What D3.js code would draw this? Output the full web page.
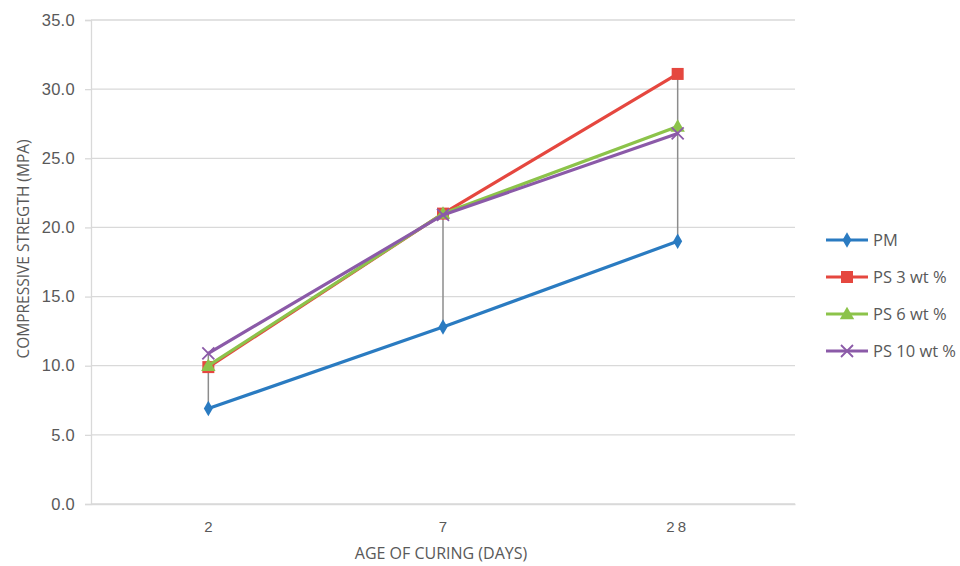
<!DOCTYPE html>
<html><head><meta charset="utf-8">
<script src="https://cdn.jsdelivr.net/npm/d3@7"></script>
<style>body{margin:0;background:#fff}svg{display:block;font-family:"Open Sans","Liberation Sans",sans-serif}</style>
</head><body><svg id="c" width="960" height="566"></svg>
<script>
const categories = ["2","7","28"];
const seriesNames = ["PM","PS 3 wt %","PS 6 wt %","PS 10 wt %"];
const pm = [6.9, 12.8, 19.0];
const ps3 = [9.9, 21.0, 31.1];
const ps6 = [10.0, 21.0, 27.3];
const ps10 = [10.9, 20.9, 26.8];
const yTicks = [0,5,10,15,20,25,30,35];
const xTitle = "AGE OF CURING (DAYS)";
const yTitle = "COMPRESSIVE STREGTH (MPA)";

const colors = ["#2a7bc1","#e5473f","#8cc34a","#8b5aa8"];
const shapes = ["diamond","square","triangle","x"];
const data = [pm, ps3, ps6, ps10];

const svg = d3.select("#c");
const L=91, R=795, T=20, B=504;
const x = d3.scaleBand().domain(categories).range([L,R]);
const y = d3.scaleLinear().domain([0,35]).range([B,T]);
const cx = c => x(c) + x.bandwidth()/2;
const txt = "#595959";

svg.append("g").selectAll("line").data(yTicks).join("line")
  .attr("x1",L).attr("x2",R).attr("y1",d=>y(d)).attr("y2",d=>y(d))
  .attr("stroke","#d9d9d9").attr("stroke-width",1.3);
const ya = svg.append("g").attr("transform",`translate(${L},0)`)
  .call(d3.axisLeft(y).tickValues(yTicks).tickFormat(d3.format(".1f")).tickSize(6).tickPadding(10));
ya.select(".domain").attr("stroke","#d9d9d9").attr("stroke-width",1.3);
ya.selectAll(".tick line").attr("stroke","#d9d9d9").attr("stroke-width",1.3);
ya.selectAll("text").attr("fill",txt).attr("font-size",16.5).attr("letter-spacing","0.3");
const xa = svg.append("g").attr("transform",`translate(0,${B})`)
  .call(d3.axisBottom(x).tickSize(0).tickPadding(17));
xa.select(".domain").attr("stroke","#d9d9d9").attr("stroke-width",1.3);
xa.selectAll("text").attr("fill",txt).attr("font-size",15)
  .attr("letter-spacing", d => d==="28" ? "3" : "0");

svg.append("text").attr("x",(L+R)/2 - 2).attr("y",559).attr("text-anchor","middle")
  .attr("fill",txt).attr("font-size",16).text(xTitle);
svg.append("text").attr("transform",`translate(29,249) rotate(-90)`).attr("text-anchor","middle")
  .attr("fill",txt).attr("font-size",15.5).text(yTitle);

categories.forEach((c,i)=>{
  const vals = data.map(s=>s[i]);
  svg.append("line").attr("x1",cx(c)).attr("x2",cx(c))
    .attr("y1",y(d3.min(vals))).attr("y2",y(d3.max(vals)))
    .attr("stroke","#8c8c8c").attr("stroke-width",1.5);
});

function marker(g, shape, color, px, py){
  if(shape==="diamond"){
    g.append("path").attr("d",d3.symbol(d3.symbolDiamond,70)()).attr("transform",`translate(${px},${py})`).attr("fill",color);
  } else if(shape==="square"){
    g.append("rect").attr("x",px-6).attr("y",py-6).attr("width",12).attr("height",12).attr("fill",color);
  } else if(shape==="triangle"){
    g.append("path").attr("d",d3.symbol(d3.symbolTriangle,90)()).attr("transform",`translate(${px},${py+1})`).attr("fill",color);
  } else {
    g.append("path").attr("d",`M${px-6},${py-6}L${px+6},${py+6}M${px-6},${py+6}L${px+6},${py-6}`)
      .attr("stroke",color).attr("stroke-width",1.8).attr("fill","none");
  }
}

const line = d3.line().x((d,i)=>cx(categories[i])).y(d=>y(d));
data.forEach((s,k)=>{
  const g = svg.append("g");
  g.append("path").datum(s).attr("d",line).attr("fill","none").attr("stroke",colors[k]).attr("stroke-width",3.2).attr("stroke-linejoin","round");
  s.forEach((v,i)=>marker(g, shapes[k], colors[k], cx(categories[i]), y(v)));
});

const lg = svg.append("g");
seriesNames.forEach((n,k)=>{
  const yy = 240 + k*37;
  lg.append("line").attr("x1",826).attr("x2",868).attr("y1",yy).attr("y2",yy).attr("stroke",colors[k]).attr("stroke-width",3.2);
  marker(lg, shapes[k], colors[k], 847, yy);
  lg.append("text").attr("x",873).attr("y",yy+6).attr("fill",txt).attr("font-size",16.5).text(n);
});
</script></body></html>
